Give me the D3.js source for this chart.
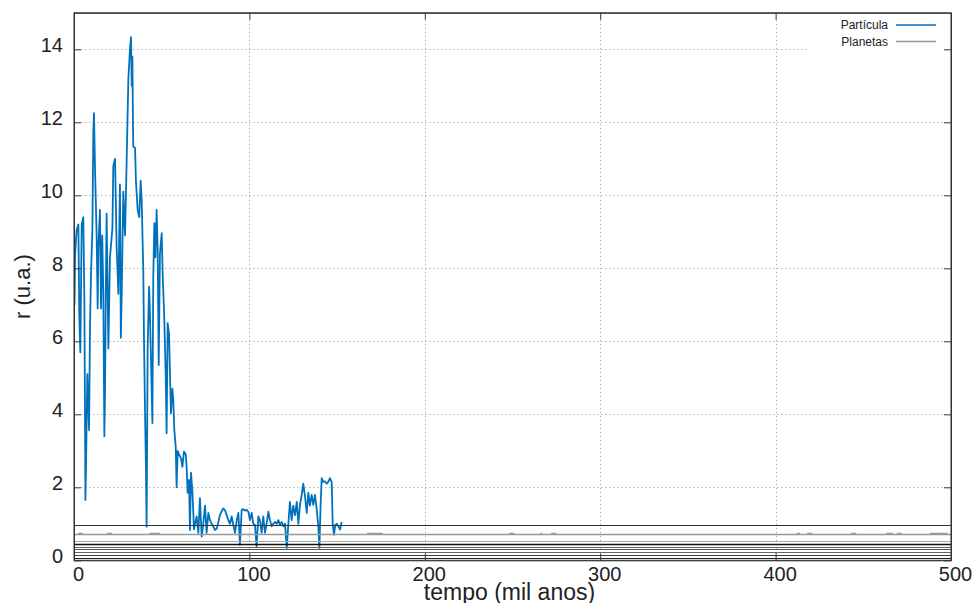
<!DOCTYPE html>
<html>
<head>
<meta charset="utf-8">
<script src="https://cdn.jsdelivr.net/npm/d3@7"></script>
<style>
  body { margin: 0; background: #fff; }
  svg { display: block; }
</style>
</head>
<body>
<script>
// particle radius (u.a.) vs time (mil anos)
const particleTime = [
  0, 0.3, 0.6, 1.5, 2.5, 3.0, 3.6, 4.4, 5.3, 5.9, 6.3, 6.5, 6.8, 7.6, 8.2, 8.6, 9.1, 9.7,
  10.5, 11.0, 11.4, 12.0, 12.9, 13.5, 13.9, 14.8, 15.4, 16.1, 16.7, 17.3, 17.7, 18.1, 18.6,
  19.6, 20.5, 21.9, 22.4, 23.4, 24.3, 25.3, 26.2, 26.7, 27.2, 28.1, 29.1, 30.0, 31.0, 31.9,
  32.5, 32.9, 33.3, 33.6, 33.8, 34.8, 35.3, 36.3, 37.2, 38.0, 38.6, 39.1, 39.5, 39.9, 40.5,
  41.0, 41.4, 42.0, 42.8, 43.3, 43.9, 44.7, 45.2, 45.8, 46.4, 47.1, 47.7, 48.3, 49.0, 50.0,
  50.6, 51.5, 52.3, 52.8, 53.4, 54.2, 54.7, 55.3, 56.1, 56.6, 57.2, 58.0, 58.5, 59.1, 59.9,
  61.0, 61.8, 62.7, 63.7, 64.2, 64.8, 65.6, 66.1, 66.7, 67.5, 68.4, 69.9, 70.9, 71.8, 72.8,
  73.7, 74.7, 75.6, 76.6, 77.5, 78.5, 79.4, 80.4, 81.4, 82.3, 83.2, 84.2, 85.1, 86.1, 87.0,
  88.0, 88.9, 89.9, 90.8, 91.8, 92.8, 93.7, 94.6, 95.6, 96.5, 97.5, 98.5, 99.4, 100.3, 101.3,
  102.2, 103.2, 104.1, 105.1, 106.0, 107.0, 107.9, 108.9, 109.8, 110.8, 111.7, 112.7, 113.6,
  114.6, 115.6, 116.5, 117.4, 118.4, 119.4, 120.3, 121.3, 122.2, 123.1, 124.1, 125.0, 126.0,
  127.0, 127.9, 128.8, 129.8, 130.7, 131.7, 132.7, 133.6, 134.5, 135.5, 136.4, 137.4, 138.4,
  139.3, 139.9, 140.6, 141.2, 142.1, 143.1, 144.1, 145.0, 145.9, 146.9, 147.5, 148.2, 149.0,
  149.8, 150.7, 151.7, 152.6
]
const particleR = [
  7.6, 7.0, 8.36, 9.05, 9.2, 6.77, 5.7, 9.2, 9.4, 7.2, 3.75, 1.65, 2.4, 5.1, 4.2, 3.57, 6.3, 7.85,
  9.1, 11.7, 12.25, 10.7, 8.9, 6.9, 8.6, 9.6, 6.9, 8.9, 7.4, 3.4, 4.66, 7.2, 9.5,
  5.8, 8.3, 9.1, 10.8, 11.0, 8.6, 7.3, 10.3, 6.1, 7.3, 10.1, 8.9, 10.9, 13.2, 14.0,
  14.33, 13.0, 13.8, 12.0, 11.33, 11.3, 10.4, 9.6, 9.4, 10.4, 9.87, 8.77, 7.95, 6.1, 4.07,
  2.56, 0.92, 5.85, 7.5, 6.77, 5.49, 3.76, 7.77, 9.24, 8.3, 9.6, 8.5, 5.35, 8.4, 8.96,
  7.77, 6.58, 5.03, 3.48, 6.5, 6.2, 5.12, 4.03, 4.7, 4.4, 3.57, 3.1, 2.0, 3.0, 2.9,
  2.8, 2.56, 2.98, 2.9, 2.56, 1.85, 2.2, 0.83, 2.4, 1.9, 0.85, 1.2, 0.75, 1.7, 0.65,
  1.0, 1.5, 0.75, 1.3, 1.1, 1.0, 0.93, 0.83, 0.87, 1.05, 1.24, 1.35, 1.42, 1.37, 1.24,
  1.1, 1.0, 1.2, 0.97, 0.75, 1.1, 1.3, 0.42, 1.38, 1.4, 1.36, 1.38, 1.33, 1.1, 1.3,
  1.0, 0.97, 0.37, 1.2, 1.1, 0.75, 1.2, 0.75, 1.0, 1.33, 1.1, 0.93, 1.0,
  1.05, 1.0, 1.1, 0.97, 1.05, 0.93, 1.0, 0.34, 1.0, 1.6, 1.1, 1.5, 1.24,
  1.6, 1.0, 1.5, 1.79, 2.1, 1.75, 1.3, 1.85, 1.5, 1.79, 1.52, 1.79, 1.38,
  0.93, 0.34, 1.5, 2.25, 2.15, 2.16, 2.1, 2.15, 2.25, 2.15, 1.0, 0.7, 0.97,
  1.0, 0.93, 0.84, 1.05
]

// planet orbits (u.a.) and how dark each one shows
const planetR = [0.975, 0.73, 0.52, 0.45, 0.37, 0.30, 0.22, 0.135, 0.06]
const planetColor = ["#333", "#999", "#aaa", "#111", "#666", "#555", "#666", "#444", "#222"]
const planetWidth = [1, 1.6, 1, 1.4, 1, 1, 1, 1, 1]
// small bumps seen on the 0.73 orbit (start, end in mil anos)
const bumpStart = [2.3, 18.8, 43, 167, 248, 266, 272, 412, 418, 443, 463, 469, 488]
const bumpEnd = [5.1, 21.7, 49, 176, 251, 267, 275, 414, 421, 446, 467, 472, 498]

const xTicks = [0, 100, 200, 300, 400, 500]
const yTicks = [0, 2, 4, 6, 8, 10, 12, 14]

const width = 978
const height = 603
const margin = { top: 13, right: 27, bottom: 43, left: 74 }
const font = "'Liberation Sans', Arial, sans-serif"

const x = d3.scaleLinear([0, 500], [margin.left, width - margin.right])
const y = d3.scaleLinear([0, 15], [height - margin.bottom + 0.3, margin.top - 0.2])
const snap = v => Math.round(v) + 0.5

const svg = d3.select("body").append("svg")
  .attr("width", width)
  .attr("height", height)
  .attr("font-family", font)

svg.append("clipPath").attr("id", "plot")
  .append("rect")
  .attr("x", x(0)).attr("y", y(15))
  .attr("width", x(500) - x(0)).attr("height", y(0) - y(15))

// grid
const grid = svg.append("g")
  .attr("stroke", "#b4b4b4")
  .attr("stroke-width", 1)
  .attr("stroke-dasharray", "1.5,2.5")

grid.selectAll(".gx")
  .data(xTicks.filter(d => d > 0 && d < 500))
  .join("line")
  .attr("x1", d => snap(x(d))).attr("x2", d => snap(x(d)))
  .attr("y1", y(15) + 7).attr("y2", y(0) - 7)

grid.selectAll(".gy")
  .data(yTicks.filter(d => d > 0))
  .join("line")
  .attr("y1", d => snap(y(d))).attr("y2", d => snap(y(d)))
  .attr("x1", x(0) + 7)
  .attr("x2", d => d === 14 ? 808 : x(500) - 7)

// particle
const line = d3.line()
  .x(i => x(particleTime[i]))
  .y(i => y(particleR[i]))

svg.append("path")
  .attr("clip-path", "url(#plot)")
  .attr("fill", "none")
  .attr("stroke", "#0072bd")
  .attr("stroke-width", 1.8)
  .attr("stroke-linejoin", "round")
  .attr("d", line(d3.range(particleTime.length)))

// planets
const planets = svg.append("g").attr("clip-path", "url(#plot)")

planets.selectAll("line")
  .data(planetR)
  .join("line")
  .attr("x1", x(0)).attr("x2", x(500))
  .attr("y1", d => snap(y(d))).attr("y2", d => snap(y(d)))
  .attr("stroke", (d, i) => planetColor[i])
  .attr("stroke-width", (d, i) => planetWidth[i])

planets.selectAll(".bump")
  .data(bumpStart)
  .join("line")
  .attr("x1", d => x(d))
  .attr("x2", (d, i) => x(bumpEnd[i]))
  .attr("y1", snap(y(planetR[1])) - 1).attr("y2", snap(y(planetR[1])) - 1)
  .attr("stroke", "#999")
  .attr("stroke-width", 1.4)

// axes
const axisX = svg.append("g")
  .attr("transform", `translate(0,${y(0)})`)
  .call(d3.axisBottom(x).tickValues(xTicks).tickSizeInner(-7).tickSizeOuter(0).tickPadding(7))

const axisXTop = svg.append("g")
  .attr("transform", `translate(0,${y(15)})`)
  .call(d3.axisTop(x).tickValues(xTicks).tickSizeInner(-7).tickSizeOuter(0).tickFormat(""))

const axisY = svg.append("g")
  .attr("transform", `translate(${x(0)},0)`)
  .call(d3.axisLeft(y).tickValues(yTicks).tickSizeInner(-7).tickSizeOuter(0).tickPadding(11))

const axisYRight = svg.append("g")
  .attr("transform", `translate(${x(500)},0)`)
  .call(d3.axisRight(y).tickValues(yTicks).tickSizeInner(-7).tickSizeOuter(0).tickFormat(""))

for (const g of [axisX, axisXTop, axisY, axisYRight]) {
  g.select(".domain").attr("stroke", "#333")
  g.selectAll(".tick line").attr("stroke", "#333")
  g.selectAll("text")
    .attr("font-family", font)
    .attr("font-size", 20)
    .attr("fill", "#222")
}
axisX.selectAll("text").attr("dx", 4)
axisY.selectAll("text").attr("dy", "0.12em")

// plot border
svg.append("rect")
  .attr("x", x(0)).attr("y", y(15))
  .attr("width", x(500) - x(0)).attr("height", y(0) - y(15))
  .attr("fill", "none")
  .attr("stroke", "#333")

// axis titles
svg.append("text")
  .attr("x", (x(0) + x(500)) / 2 - 3)
  .attr("y", 600)
  .attr("text-anchor", "middle")
  .attr("font-size", 23)
  .attr("fill", "#222")
  .text("tempo (mil anos)")

svg.append("text")
  .attr("transform", `translate(30,${(y(0) + y(15)) / 2}) rotate(-90)`)
  .attr("text-anchor", "middle")
  .attr("font-size", 22)
  .attr("fill", "#222")
  .text("r (u.a.)")

// legend
const legendNames = ["Partícula", "Planetas"]
const legendColors = ["#0072bd", "#999"]

const legend = svg.append("g")
  .attr("font-size", 12)
  .selectAll("g")
  .data(legendNames)
  .join("g")
  .attr("transform", (d, i) => `translate(0,${25 + i * 16.5})`)

legend.append("text")
  .attr("x", 888)
  .attr("dy", "0.35em")
  .attr("text-anchor", "end")
  .attr("fill", "#222")
  .text(d => d)

legend.append("line")
  .attr("x1", 896).attr("x2", 936)
  .attr("stroke", (d, i) => legendColors[i])
  .attr("stroke-width", 1.5)
</script>
</body>
</html>
